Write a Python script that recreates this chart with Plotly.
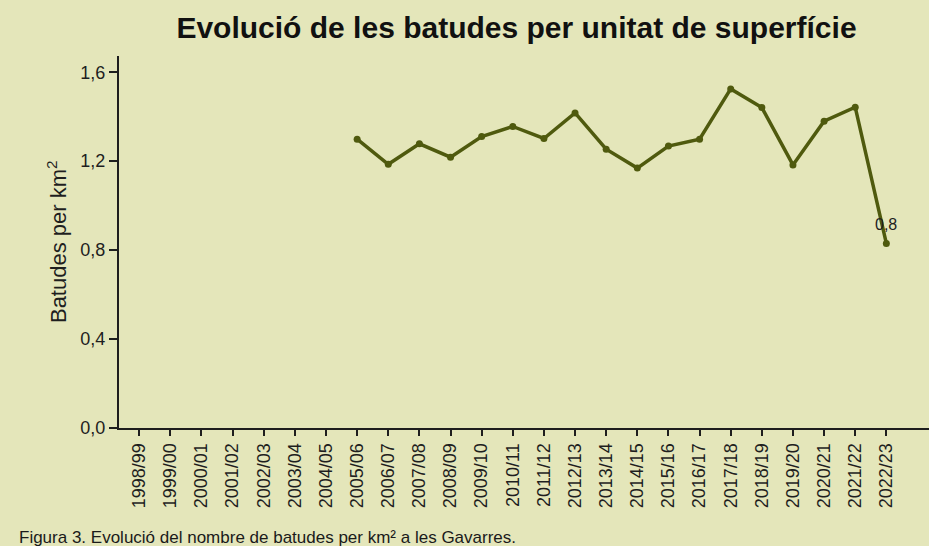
import plotly.graph_objects as go

categories = ["1998/99", "1999/00", "2000/01", "2001/02", "2002/03", "2003/04", "2004/05",
              "2005/06", "2006/07", "2007/08", "2008/09", "2009/10", "2010/11", "2011/12",
              "2012/13", "2013/14", "2014/15", "2015/16", "2016/17", "2017/18", "2018/19",
              "2019/20", "2020/21", "2021/22", "2022/23"]
values = [None, None, None, None, None, None, None,
          1.299, 1.186, 1.278, 1.218, 1.311, 1.356, 1.302,
          1.417, 1.254, 1.169, 1.268, 1.299, 1.525, 1.441,
          1.183, 1.380, 1.443, 0.830]
last_label = "0,8"
y_ticks = [0.0, 0.4, 0.8, 1.2, 1.6]

BG = "#e4e6ba"
OLIVE = "#4f5a0e"
INK = "#1e1e1e"
FONT = "Liberation Sans"

fig = go.Figure()
fig.add_trace(go.Scatter(
    x=categories, y=values, mode="lines+markers",
    line=dict(color=OLIVE, width=3.5),
    marker=dict(color=OLIVE, size=7),
    connectgaps=False, showlegend=False, hoverinfo="x+y",
))

fig.add_annotation(x=categories[-1], y=values[-1], text=last_label, showarrow=False,
                   yshift=19, xshift=0, font=dict(family=FONT, size=16, color=INK))

# y-axis title
fig.add_annotation(xref="paper", yref="paper", x=-0.0765, y=0.5, text="Batudes per km<sup>2</sup>",
                   textangle=-90, showarrow=False, xanchor="center", yanchor="middle",
                   font=dict(family=FONT, size=22, color=INK))

# caption
fig.add_annotation(xref="paper", yref="paper", x=(17 - 119) / 810, y=-(537 - 428) / 372,
                   text="Figura 3. Evolució del nombre de batudes per km² a les Gavarres.",
                   showarrow=False, xanchor="left", yanchor="middle",
                   font=dict(family=FONT, size=17, color="#1a1a1a"))

fig.update_layout(
    width=929, height=546,
    paper_bgcolor=BG, plot_bgcolor=BG,
    margin=dict(l=119, r=0, t=56, b=118),
    separators=", ",
    title=dict(text="<b>Evolució de les batudes per unitat de superfície</b>",
               x=516.5 / 929, xanchor="center", xref="container",
               y=1 - 27 / 546, yanchor="middle", yref="container",
               font=dict(family=FONT, size=30, color="#111111")),
    xaxis=dict(type="category", range=[-0.65, 25.37], showgrid=False, zeroline=False,
               showline=True, linecolor=INK, linewidth=2,
               ticks="outside", ticklen=6, tickwidth=1.5, tickcolor=INK,
               tickangle=-90, tickfont=dict(family=FONT, size=18, color=INK)),
    yaxis=dict(range=[0, 1.673], tickvals=y_ticks, tickformat=".1f", showgrid=False,
               zeroline=False, showline=True, linecolor=INK, linewidth=2,
               ticks="outside", ticklen=8, tickwidth=1.5, tickcolor=INK,
               tickfont=dict(family=FONT, size=18, color=INK)),
)

fig.write_html("out.html", config={"displayModeBar": False},
               post_script="document.body.style.margin='0';")
